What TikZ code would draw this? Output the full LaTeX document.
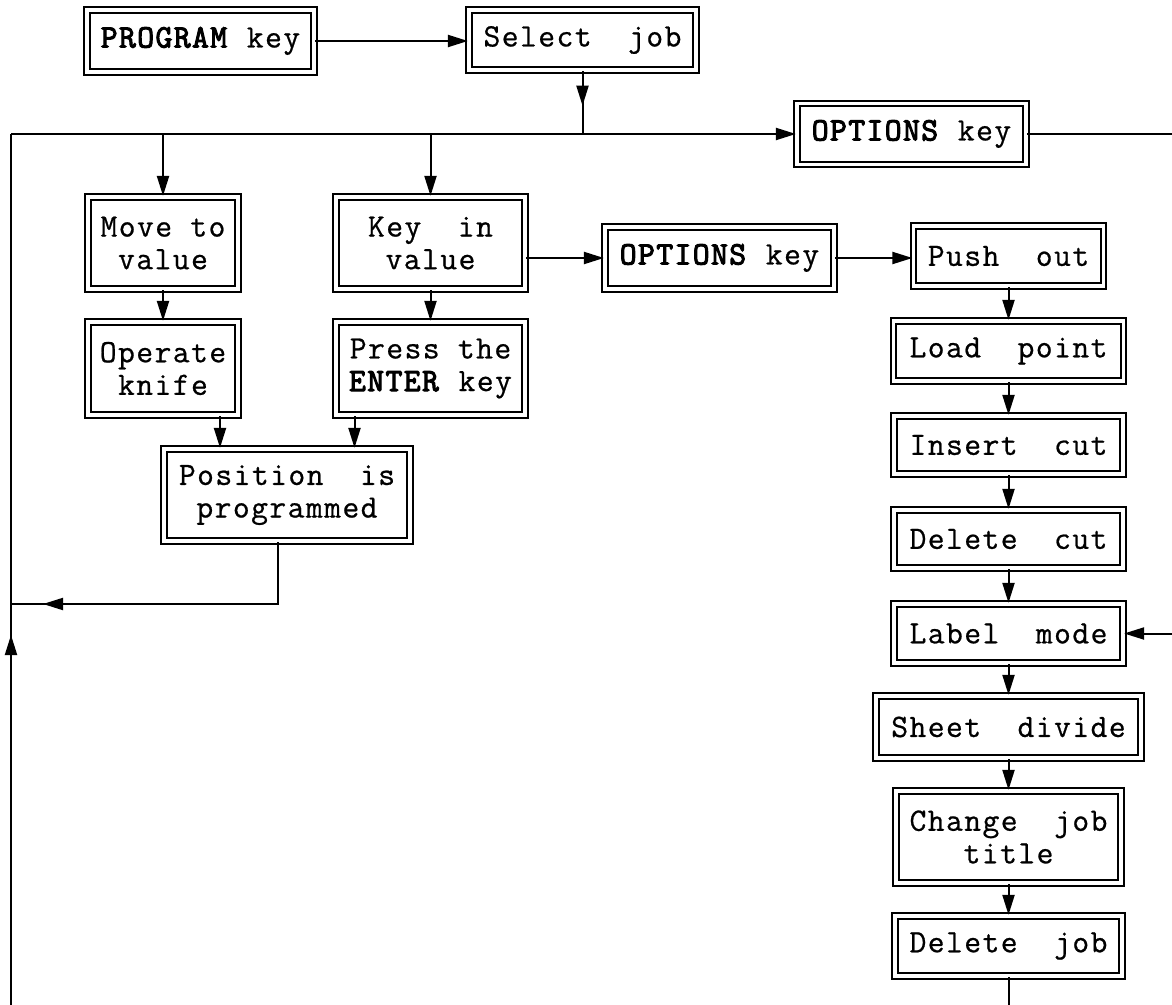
\documentclass[tikz,border=0pt]{standalone}
\usepackage{fontspec}
\setmonofont{Latin Modern Mono}[LetterSpace=4.5, UprightFeatures={FakeBold=0.7}, AutoFakeBold=3.2]
\usetikzlibrary{arrows.meta}
\usetikzlibrary{decorations.markings}

\begin{document}
\begin{tikzpicture}[x=0.5pt,y=-0.5pt,
  box/.style={draw=black, double=white, line width=1.1pt, double distance=1.6pt, align=center, inner sep=2pt, minimum width=114.5pt, minimum height=30pt, font=\ttfamily\fontsize{16.3}{16.3}\selectfont},
  con/.style={line width=1pt},
  arr/.style={-{Triangle[length=10pt,width=6pt]}},
  midtip/.style={postaction={decorate,decoration={markings,mark=at position #1 with {\arrow{Triangle[length=10pt,width=6pt]}}}}}]
\useasboundingbox (0,0) rectangle (1172,1005);
\coordinate (lt) at (11,134);
\coordinate (lm) at (11,604);
\coordinate (lb) at (11,1005);
\coordinate (re1) at (1172,134);
\coordinate (re2) at (1172,633.5);
\node[box, minimum width=113.5pt, minimum height=31pt] (prg) at (200.5,41) {\textbf{PROGRAM} key};
\node[box, minimum width=113.5pt] (sel) at (582.5,40) {Select\ \ job};
\node[box, minimum height=30.5pt] (opt) at (911.5,134) {\textbf{OPTIONS} key};
\node[box, minimum width=75pt, minimum height=46pt] (mov) at (163,243) {Move to\\value};
\node[box, minimum width=94.5pt, minimum height=46pt] (kin) at (430.5,243) {Key\ \ in\\value};
\node[box, minimum height=31pt] (opt2) at (719.5,258) {\textbf{OPTIONS} key};
\node[box, minimum width=95pt] (psh) at (1008.5,256) {Push\ \ out};
\node[box, minimum width=75pt, minimum height=46.5pt] (knf) at (163,368.5) {Operate\\knife};
\node[box, minimum width=94.5pt, minimum height=46.5pt] (ent) at (430.5,368.5) {Press the\\\textbf{ENTER} key};
\node[box, minimum width=123pt, minimum height=46pt] (pos) at (287,495) {Position\ \ is\\programmed};
\node[box, minimum width=115pt] (lod) at (1008.5,351) {Load\ \ point};
\node[box, minimum height=29pt] (ins) at (1008.5,445) {Insert\ \ cut};
\node[box, minimum height=29pt] (dcut) at (1008.5,539) {Delete\ \ cut};
\node[box, minimum height=29.5pt] (lab) at (1008.5,633.5) {Label\ \ mode};
\node[box, minimum width=132.5pt, minimum height=31pt] (shd) at (1008.5,727) {Sheet\ \ divide};
\node[box, minimum width=112.5pt, minimum height=46pt] (chg) at (1008.5,837) {Change\ \ job\\title};
\node[box, minimum width=113.5pt] (djob) at (1008.5,946) {Delete\ \ job};
\draw[con, arr] (prg.east) -- (sel.west |- prg.east);
\draw[con, midtip=0.55] (sel.south) -- (sel.south |- lt);
\draw[con, arr] (sel.south |- lt) -- (opt.west);
\draw[con] (sel.south |- lt) -- (lt);
\draw[con, midtip=185pt] (lb) -- (lt);
\draw[con] (opt.east) -- (re1);
\draw[con, arr] (mov.north |- lt) -- (mov.north);
\draw[con, arr] (kin.north |- lt) -- (kin.north);
\draw[con, arr] (kin.east |- opt2.west) -- (opt2.west);
\draw[con, arr] (opt2.east) -- (psh.west |- opt2.east);
\draw[con, arr] (mov) -- (knf);
\draw[con, arr] (kin) -- (ent);
\draw[con, arr] ([xshift=28.5pt]knf.south) -- ([xshift=28.5pt]knf.south |- pos.north);
\draw[con, arr] ([xshift=-38pt]ent.south) -- ([xshift=-38pt]ent.south |- pos.north);
\draw[con, midtip=-16pt] ([xshift=-4.5pt]pos.south) |- (lm);
\draw[con, arr] (psh) -- (lod);
\draw[con, arr] (lod) -- (ins);
\draw[con, arr] (ins) -- (dcut);
\draw[con, arr] (dcut) -- (lab);
\draw[con, arr] (re2) -- (lab.east);
\draw[con, arr] (lab) -- (shd);
\draw[con, arr] (shd) -- (chg);
\draw[con, arr] (chg) -- (djob);
\draw[con] (djob.south) -- (djob.south |- lb);
\end{tikzpicture}
\end{document}
